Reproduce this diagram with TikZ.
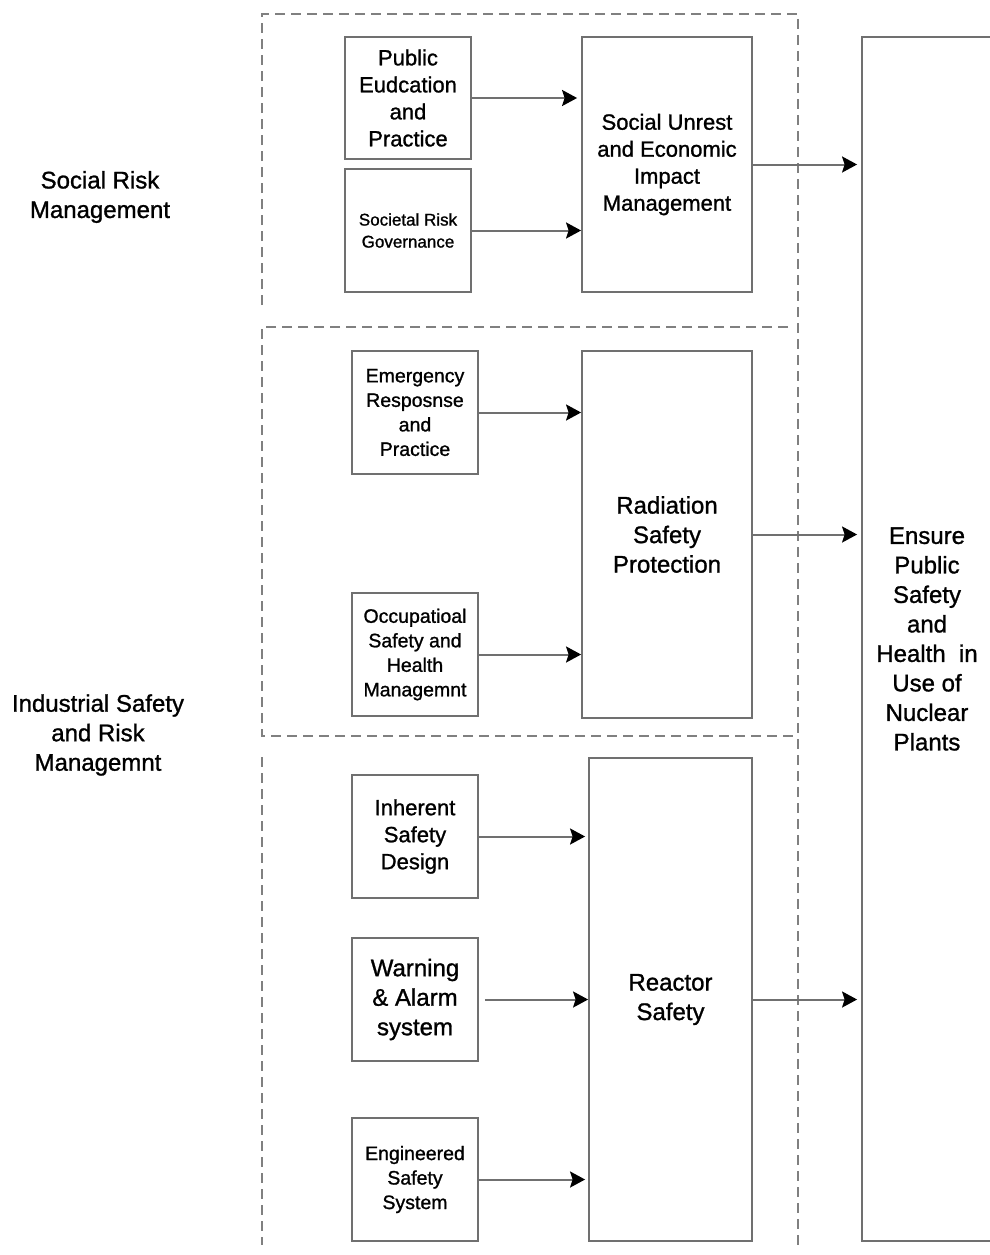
\documentclass[tikz,border=0pt]{standalone}
\usepackage{fontspec}
\setmainfont[FakeBold=1.1]{Liberation Sans}
\usepackage{tikz}
\usetikzlibrary{arrows.meta, calc, positioning}
\usepackage{xcolor}
\definecolor{lineg}{HTML}{707070}
\definecolor{dashg}{HTML}{808080}
\tikzset{
  box/.style    ={draw=lineg, line width=1.8pt, align=center, inner sep=0pt, text=black},
  txtS/.style   ={font=\fontsize{17}{22}\selectfont},
  txtM/.style   ={font=\fontsize{19.5}{24.5}\selectfont},
  txtL/.style   ={font=\fontsize{22}{27}\selectfont},
  txtXL/.style  ={font=\fontsize{24}{29.5}\selectfont},
  flow/.style   ={-{Stealth[length=15pt, width=16pt, inset=2.5pt, color=black]}, draw=lineg, line width=2pt}, % box -> box
  grp/.style    ={draw=dashg, line width=2pt, dash pattern=on 10pt off 6pt},                          % group frame
  side/.style   ={align=center, txtXL},
}

\begin{document}
\begin{tikzpicture}[x=1pt, y=-1pt]
  \useasboundingbox (0,0) rectangle (989,1255);

  % group frames
  \draw[grp] (262,305) -- (262,14) -- (798,14) -- (798,1245);
  \draw[grp] (788,327) -- (262,327) -- (262,736) -- (798,736);
  \draw[grp] (262,757) -- (262,1245);

  % side labels
  \node[side] (lsocial) at (100,197) {Social Risk\\Management};
  \node[side] (lindus)  at (98,735)  {Industrial Safety\\and Risk\\Managemnt};

  % social risk
  \node[box, txtL, minimum width=126pt, minimum height=122pt] (pubedu) at (408,98)    {Public\\Eudcation\\and\\Practice};
  \node[box, txtS, minimum width=126pt, minimum height=123pt] (socgov) at (408,230.5) {Societal Risk\\Governance};
  \node[box, txtL, minimum width=170pt, minimum height=255pt] (social) at (667,164.5) {Social Unrest\\and Economic\\Impact\\Management};

  % radiation
  \node[box, txtM, minimum width=126pt, minimum height=123pt] (emresp)  at (415,412.5) {Emergency\\Resposnse\\and\\Practice};
  \node[box, txtM, minimum width=126pt, minimum height=123pt] (occsafe) at (415,654.5) {Occupatioal\\Safety and\\Health\\Managemnt};
  \node[box, txtXL, minimum width=170pt, minimum height=367pt] (radsafe) at (667,534.5) {Radiation\\Safety\\Protection};

  % reactor
  \node[box, txtL, minimum width=126pt, minimum height=123pt]  (inhsafe) at (415,836.5)  {Inherent\\Safety\\Design};
  \node[box, txtXL, minimum width=126pt, minimum height=123pt] (warn)    at (415,999.5)  {Warning\\\& Alarm\\system};
  \node[box, txtM, minimum width=126pt, minimum height=123pt]  (engsafe) at (415,1179.5) {Engineered\\Safety\\System};
  \node[box, txtXL, minimum width=163pt, minimum height=483pt] (reactor) at (670.5,999.5) {Reactor\\Safety};

  % goal
  \node[box, txtXL, minimum width=130pt, minimum height=1204pt] (ensure) at (927,639)
    {Ensure\\Public\\Safety\\and\\Health\ \ in\\Use of\\Nuclear\\Plants};

  \draw[flow, shorten >=4pt] (pubedu)  -- (pubedu -| social.west);
  \draw[flow] (socgov)  -- (socgov -| social.west);
  \draw[flow] (emresp)  -- (emresp -| radsafe.west);
  \draw[flow] (occsafe) -- (occsafe -| radsafe.west);
  \draw[flow, shorten >=3pt] (inhsafe) -- (inhsafe -| reactor.west);
  \draw[flow, shorten <=6pt] (warn) -- (warn -| reactor.west);
  \draw[flow, shorten >=3pt] (engsafe) -- (engsafe -| reactor.west);
  \draw[flow, shorten >=4pt] (social)  -- (social -| ensure.west);
  \draw[flow, shorten >=4pt] (radsafe) -- (radsafe -| ensure.west);
  \draw[flow, shorten >=4pt] (reactor) -- (reactor -| ensure.west);
\end{tikzpicture}
\end{document}
